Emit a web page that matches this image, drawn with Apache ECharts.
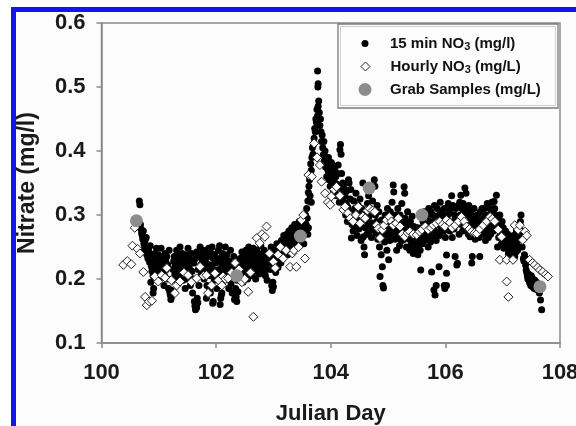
<!DOCTYPE html>
<html>
<head>
<meta charset="utf-8">
<script src="https://cdn.jsdelivr.net/npm/echarts@6/dist/echarts.min.js"></script>
<style>html,body{margin:0;padding:0;background:#fff}#c{width:576px;height:426px}</style>
</head>
<body>
<div id="c"></div>
<script>
// 15-minute nitrate readings [Julian day, mg/l]
const min15Data = [
[100.66,0.322],[100.67,0.316],[100.68,0.285],[100.69,0.278],[100.70,0.272],
[100.71,0.268],[100.72,0.262],[100.73,0.275],[100.74,0.255],[100.75,0.248],[100.76,0.26],[100.77,0.243],[100.78,0.265],[100.79,0.238],[100.80,0.25],
[100.81,0.232],[100.82,0.245],[100.83,0.24],[100.84,0.226],[100.85,0.252],[100.86,0.235],[100.87,0.22],[100.88,0.212],[100.89,0.23],[100.90,0.205],
[100.90,0.178],[100.91,0.185],[100.86,0.195],
[100.92,0.222],[100.93,0.24],[100.94,0.232],[100.95,0.215],[100.96,0.248],[100.97,0.228],[100.98,0.21],[100.99,0.238],[101.0,0.225],
[101.01,0.2],[101.02,0.218],[101.03,0.235],[101.04,0.248],[101.05,0.226],[101.06,0.21],[101.07,0.232],[101.08,0.222],[101.09,0.19],[101.1,0.205],
[101.11,0.24],[101.12,0.228],[101.13,0.215],[101.14,0.235],[101.15,0.2],[101.16,0.222],[101.17,0.185],[101.18,0.245],[101.19,0.18],[101.2,0.175],
[101.21,0.168],[101.22,0.172],[101.23,0.182],
[101.24,0.2],[101.25,0.215],[101.26,0.228],[101.27,0.235],[101.28,0.208],[101.29,0.222],[101.3,0.198],
[101.31,0.245],[101.32,0.232],[101.33,0.215],[101.34,0.225],[101.35,0.238],[101.36,0.205],[101.37,0.25],[101.38,0.22],[101.39,0.212],[101.4,0.228],
[101.41,0.24],[101.42,0.198],[101.43,0.215],[101.44,0.232],[101.45,0.222],[101.46,0.185],[101.47,0.2],[101.48,0.238],[101.49,0.21],[101.5,0.226],
[101.51,0.248],[101.52,0.235],[101.53,0.218],[101.54,0.205],[101.55,0.19],[101.56,0.228],[101.57,0.24],[101.58,0.212],[101.59,0.178],[101.6,0.2],
[101.62,0.165],[101.63,0.158],[101.64,0.152],[101.65,0.16],[101.66,0.155],[101.67,0.17],[101.68,0.163],
[101.61,0.225],[101.64,0.232],[101.66,0.242],[101.69,0.215],[101.7,0.19],
[101.71,0.235],[101.72,0.25],[101.73,0.222],[101.74,0.208],[101.75,0.24],[101.76,0.228],[101.77,0.215],[101.78,0.245],[101.79,0.2],[101.8,0.232],
[101.81,0.218],[101.82,0.24],[101.83,0.225],[101.84,0.19],[101.85,0.208],[101.86,0.235],[101.87,0.248],[101.88,0.212],[101.89,0.183],[101.9,0.205],
[101.83,0.17],[101.9,0.178],[101.94,0.162],[101.95,0.165],
[101.91,0.222],[101.92,0.24],[101.93,0.25],[101.95,0.232],[101.96,0.215],[101.97,0.198],[101.98,0.238],[101.99,0.225],[102.0,0.21],
[102.01,0.185],[102.02,0.2],[102.03,0.228],[102.04,0.245],[102.05,0.215],[102.06,0.252],[102.07,0.232],[102.08,0.208],[102.09,0.175],[102.1,0.222],
[102.07,0.16],[102.08,0.17],[102.1,0.178],
[102.11,0.24],[102.12,0.228],[102.13,0.212],[102.14,0.198],[102.15,0.235],[102.16,0.25],[102.17,0.22],[102.18,0.205],[102.19,0.238],[102.2,0.215],
[102.21,0.2],[102.22,0.185],[102.23,0.228],[102.24,0.212],[102.25,0.245],[102.26,0.192],[102.27,0.222],[102.28,0.178],[102.29,0.205],[102.3,0.218],
[102.31,0.235],[102.32,0.168],[102.33,0.175],[102.34,0.185],[102.35,0.172],[102.36,0.165],[102.37,0.198],[102.38,0.18],[102.39,0.21],[102.4,0.225],
[102.41,0.215],[102.42,0.232],[102.43,0.2],[102.44,0.222],[102.45,0.242],[102.46,0.21],[102.47,0.195],[102.48,0.235],[102.49,0.218],[102.5,0.205],
[102.51,0.228],[102.52,0.245],[102.53,0.212],[102.54,0.238],[102.55,0.2],[102.56,0.222],[102.57,0.25],[102.58,0.232],[102.59,0.215],[102.6,0.24],
[102.61,0.218],[102.62,0.235],[102.63,0.205],[102.64,0.228],[102.65,0.248],[102.66,0.212],[102.67,0.238],[102.68,0.222],[102.69,0.2],[102.7,0.232],
[102.71,0.245],[102.72,0.228],[102.73,0.215],[102.74,0.24],[102.75,0.208],[102.76,0.232],[102.77,0.222],[102.78,0.252],[102.79,0.238],[102.8,0.218],
[102.81,0.235],[102.82,0.212],[102.83,0.228],[102.84,0.245],[102.85,0.22],[102.86,0.205],[102.87,0.24],[102.88,0.215],[102.89,0.198],[102.9,0.232],
[102.97,0.19],[102.98,0.182],[102.99,0.195],[103.0,0.188],
[102.91,0.225],[102.93,0.24],[102.94,0.228],[102.95,0.215],[102.96,0.25],[102.97,0.235],
[103.01,0.222],[103.02,0.245],[103.03,0.232],[103.04,0.21],[103.05,0.24],[103.06,0.255],[103.07,0.228],[103.08,0.218],[103.09,0.242],[103.1,0.235],
[103.11,0.25],[103.12,0.238],[103.13,0.225],[103.14,0.26],[103.15,0.245],[103.16,0.232],[103.17,0.252],[103.18,0.268],[103.19,0.24],[103.2,0.255],
[103.21,0.262],[103.22,0.248],[103.23,0.27],[103.24,0.255],[103.25,0.238],[103.26,0.265],[103.27,0.275],[103.28,0.25],[103.29,0.26],[103.3,0.272],
[103.31,0.258],[103.32,0.28],[103.33,0.268],[103.34,0.25],[103.35,0.275],[103.36,0.262],[103.37,0.285],[103.38,0.27],[103.39,0.255],[103.4,0.278],
[103.41,0.268],[103.42,0.285],[103.43,0.26],[103.44,0.275],[103.45,0.29],[103.46,0.27],[103.47,0.28],[103.48,0.262],[103.49,0.288],[103.5,0.275],
[103.51,0.28],[103.52,0.268],[103.53,0.255],[103.54,0.29],[103.55,0.272],[103.56,0.3],[103.57,0.285],[103.58,0.31],[103.59,0.295],[103.6,0.322],
[103.61,0.335],[103.6,0.27],[103.61,0.28],[103.62,0.345],[103.63,0.355],[103.64,0.33],[103.66,0.32],
[103.64,0.365],[103.65,0.38],[103.66,0.37],[103.67,0.39],[103.68,0.405],[103.69,0.395],[103.7,0.41],
[103.71,0.42],[103.72,0.435],[103.73,0.43],[103.74,0.45],[103.75,0.445],[103.76,0.465],[103.77,0.455],[103.78,0.47],[103.775,0.5],[103.78,0.505],[103.77,0.525],
[103.79,0.478],[103.8,0.46],[103.81,0.44],[103.82,0.45],[103.83,0.43],[103.84,0.415],[103.85,0.425],
[103.86,0.405],[103.87,0.394],[103.88,0.415],[103.89,0.385],[103.9,0.4],[103.91,0.375],[103.92,0.39],[103.93,0.36],[103.94,0.38],[103.95,0.37],
[103.96,0.39],[103.97,0.355],[103.98,0.372],[103.99,0.345],[104.0,0.365],[104.01,0.382],[104.02,0.35],[104.03,0.378],[104.04,0.34],[104.05,0.362],
[104.06,0.355],[104.07,0.372],[104.08,0.338],[104.09,0.36],[104.1,0.33],[104.11,0.348],[104.12,0.365],[104.13,0.378],[104.14,0.344],[104.15,0.32],
[104.16,0.402],[104.17,0.41],[104.18,0.395],[104.19,0.365],[104.2,0.335],[104.21,0.35],[104.22,0.322],[104.23,0.342],[104.24,0.31],[104.25,0.33],
[104.26,0.3],[104.27,0.318],[104.28,0.338],[104.29,0.29],[104.3,0.312],[104.31,0.355],[104.32,0.35],[104.33,0.298],[104.34,0.325],[104.35,0.34],
[104.36,0.264],[104.37,0.285],[104.38,0.305],[104.39,0.275],[104.4,0.322],[104.41,0.295],[104.42,0.31],[104.43,0.282],[104.44,0.334],[104.45,0.3],
[104.46,0.268],[104.47,0.29],[104.48,0.315],[104.49,0.278],[104.5,0.302],[104.51,0.325],[104.52,0.285],[104.53,0.26],[104.54,0.31],[104.55,0.295],
[104.56,0.35],[104.57,0.266],[104.58,0.25],[104.59,0.238],[104.6,0.28],[104.61,0.305],[104.62,0.292],[104.63,0.27],[104.64,0.318],[104.65,0.285],
[104.66,0.33],[104.67,0.298],[104.68,0.275],[104.69,0.31],[104.7,0.288],[104.71,0.265],[104.72,0.302],[104.73,0.322],[104.74,0.28],[104.75,0.345],
[104.76,0.355],[104.77,0.345],[104.78,0.3],[104.79,0.272],[104.8,0.29],[104.81,0.315],[104.82,0.262],[104.83,0.282],[104.84,0.305],[104.85,0.25],
[104.86,0.204],[104.87,0.27],[104.88,0.238],[104.89,0.292],[104.9,0.219],[104.91,0.19],[104.92,0.186],[104.93,0.28],[104.94,0.258],[104.95,0.3],
[104.96,0.268],[104.97,0.285],[104.98,0.245],[104.99,0.31],[105.0,0.275],[105.01,0.23],[105.02,0.29],[105.03,0.26],[105.04,0.305],[105.05,0.28],
[105.06,0.27],[105.07,0.32],[105.08,0.295],[105.09,0.347],[105.1,0.336],[105.11,0.285],[105.12,0.262],[105.13,0.3],[105.14,0.275],[105.15,0.245],
[105.16,0.29],[105.17,0.31],[105.18,0.268],[105.19,0.285],[105.2,0.252],[105.21,0.3],[105.22,0.275],[105.23,0.26],[105.24,0.318],[105.25,0.29],
[105.26,0.261],[105.27,0.28],[105.28,0.344],[105.29,0.334],[105.3,0.295],[105.31,0.27],[105.32,0.25],[105.33,0.285],[105.34,0.305],[105.35,0.265],
[105.36,0.28],[105.37,0.262],[105.38,0.245],[105.39,0.29],[105.4,0.272],[105.41,0.255],[105.42,0.298],[105.43,0.268],[105.44,0.24],[105.45,0.282],
[105.46,0.26],[105.47,0.25],[105.48,0.275],[105.49,0.245],[105.5,0.265],[105.51,0.255],[105.52,0.28],[105.53,0.248],[105.54,0.27],[105.55,0.258],
[105.45,0.25],[105.48,0.242],[105.5,0.248],[105.52,0.238],[105.56,0.245],
[105.57,0.214],[105.58,0.265],[105.59,0.28],[105.6,0.255],[105.61,0.29],[105.62,0.27],[105.63,0.305],[105.64,0.26],[105.65,0.285],
[105.66,0.275],[105.67,0.298],[105.68,0.262],[105.69,0.285],[105.7,0.25],[105.71,0.31],[105.72,0.27],[105.73,0.29],[105.74,0.258],[105.75,0.305],
[105.76,0.211],[105.8,0.183],[105.82,0.175],[105.84,0.19],[105.89,0.219],[105.98,0.19],[105.99,0.185],
[105.77,0.28],[105.78,0.3],[105.79,0.265],[105.8,0.29],[105.81,0.315],[105.82,0.275],[105.83,0.298],[105.84,0.26],[105.85,0.285],
[105.86,0.31],[105.87,0.27],[105.88,0.29],[105.89,0.3],[105.9,0.268],[105.91,0.32],[105.92,0.295],[105.93,0.278],[105.94,0.305],[105.95,0.285],
[105.96,0.3],[105.97,0.275],[105.98,0.31],[105.99,0.29],[106.0,0.265],[106.01,0.295],[106.02,0.2375],[106.03,0.28],[106.04,0.3],[106.05,0.318],
[106.02,0.19],[106.02,0.209],
[106.06,0.29],[106.07,0.305],[106.08,0.275],[106.09,0.31],[106.1,0.285],[106.11,0.33],[106.12,0.265],[106.13,0.315],[106.14,0.29],[106.15,0.278],
[106.16,0.3],[106.17,0.235],[106.18,0.31],[106.19,0.285],[106.2,0.222],[106.21,0.2245],[106.22,0.295],[106.23,0.315],[106.24,0.27],[106.25,0.32],
[106.26,0.3],[106.27,0.331],[106.28,0.285],[106.29,0.31],[106.3,0.275],[106.31,0.318],[106.32,0.29],[106.33,0.305],[106.34,0.342],[106.35,0.28],
[106.36,0.334],[106.37,0.31],[106.38,0.288],[106.39,0.3],[106.4,0.27],[106.41,0.315],[106.42,0.285],[106.43,0.266],[106.44,0.295],[106.45,0.305],
[106.46,0.225],[106.47,0.235],[106.48,0.29],[106.49,0.275],[106.5,0.31],[106.51,0.28],[106.52,0.262],[106.53,0.298],[106.54,0.27],[106.55,0.285],
[106.56,0.3],[106.57,0.275],[106.58,0.29],[106.59,0.265],[106.6,0.235],[106.61,0.305],[106.62,0.271],[106.63,0.288],[106.64,0.31],[106.65,0.28],
[106.66,0.295],[106.67,0.27],[106.68,0.31],[106.69,0.285],[106.7,0.26],[106.71,0.3],[106.72,0.275],[106.73,0.318],[106.74,0.29],[106.75,0.265],
[106.76,0.3],[106.77,0.282],[106.78,0.31],[106.79,0.27],[106.8,0.295],[106.81,0.32],[106.82,0.285],[106.83,0.305],[106.84,0.275],[106.85,0.321],
[106.86,0.31],[106.87,0.29],[106.88,0.3],[106.89,0.331],[106.9,0.28],[106.91,0.25],[106.92,0.295],[106.93,0.265],[106.94,0.285],[106.95,0.3],
[106.96,0.27],[106.97,0.285],[106.98,0.255],[106.99,0.29],[107.0,0.265],[107.01,0.28],[107.02,0.248],[107.03,0.27],[107.04,0.258],[107.05,0.275],
[107.06,0.255],[107.07,0.261],[107.08,0.248],[107.09,0.27],[107.1,0.24],[107.11,0.258],[107.12,0.245],[107.13,0.265],[107.14,0.25],[107.15,0.238],
[107.16,0.26],[107.17,0.256],[107.18,0.245],[107.19,0.268],[107.2,0.25],[107.21,0.235],[107.22,0.258],[107.23,0.242],[107.24,0.275],[107.25,0.255],
[107.26,0.245],[107.27,0.265],[107.28,0.25],[107.29,0.28],[107.3,0.262],[107.31,0.29],[107.32,0.3],[107.33,0.275],[107.34,0.25],[107.35,0.268],
[107.36,0.232],[107.37,0.228],[107.38,0.238],[107.39,0.233],[107.4,0.222],[107.41,0.214],[107.42,0.21],[107.43,0.205],[107.44,0.2],[107.45,0.208],
[107.46,0.198],[107.47,0.194],[107.48,0.202],[107.49,0.19],[107.5,0.205],[107.51,0.196],[107.52,0.188],[107.53,0.2],[107.54,0.192],[107.55,0.185],
[107.56,0.198],[107.57,0.19],[107.58,0.184],[107.59,0.195],[107.6,0.188],
[107.62,0.182],[107.64,0.178],[107.66,0.167],[107.68,0.152]
];

// Hourly nitrate readings [Julian day, mg/L]
const hourlyData = [
[100.38,0.222],[100.45,0.228],[100.52,0.223],[100.54,0.252],[100.58,0.28],[100.63,0.247],[100.67,0.24],[100.73,0.211],
[100.76,0.172],[100.79,0.159],[100.83,0.165],[100.88,0.166],[100.93,0.204],[100.99,0.196],[101.05,0.206],[101.11,0.202],
[101.14,0.217],[101.22,0.198],[101.28,0.178],[101.31,0.19],[101.37,0.196],[101.44,0.21],[101.51,0.206],[101.57,0.195],
[101.66,0.201],[101.72,0.219],[101.78,0.205],[101.83,0.206],[101.86,0.178],[101.92,0.19],[101.98,0.209],[102.04,0.198],
[102.10,0.19],[102.12,0.204],[102.16,0.2],[102.21,0.201],[102.27,0.21],[102.33,0.225],[102.4,0.215],[102.45,0.195],[102.5,0.2],
[102.56,0.18],[102.6,0.21],[102.65,0.141],[102.71,0.264],[102.76,0.256],[102.8,0.27],[102.85,0.266],[102.88,0.282],
[102.93,0.24],[103.0,0.227],[103.03,0.217],[103.08,0.238],[103.12,0.25],[103.17,0.232],[103.22,0.245],[103.29,0.219],
[103.33,0.24],[103.36,0.245],[103.4,0.219],[103.44,0.25],[103.49,0.292],[103.52,0.30],[103.55,0.232],[103.61,0.3625],
[103.67,0.36],[103.71,0.412],[103.76,0.39],[103.81,0.378],[103.84,0.352],[103.9,0.334],[103.95,0.32],[103.99,0.316],
[104.01,0.329],[104.06,0.34],[104.1,0.344],[104.16,0.33],[104.22,0.308],[104.25,0.313],[104.3,0.303],[104.34,0.295],
[104.39,0.29],[104.44,0.3],[104.48,0.313],[104.51,0.287],[104.56,0.298],[104.6,0.295],[104.64,0.307],[104.68,0.31],
[104.73,0.307],[104.77,0.305],[104.8,0.284],[104.83,0.279],[104.86,0.264],[104.9,0.277],[104.93,0.284],[104.97,0.292],
[105.02,0.297],[105.06,0.29],[105.09,0.284],[105.14,0.287],[105.18,0.295],[105.21,0.282],[105.25,0.27],[105.29,0.266],
[105.34,0.272],[105.38,0.274],[105.44,0.27],[105.5,0.269],[105.55,0.274],[105.59,0.277],[105.65,0.282],[105.7,0.277],
[105.75,0.28],[105.79,0.284],[105.84,0.287],[105.9,0.29],[105.95,0.285],[105.99,0.282],[106.02,0.292],[106.08,0.288],
[106.12,0.28],[106.17,0.284],[106.23,0.29],[106.28,0.297],[106.33,0.29],[106.37,0.282],[106.42,0.278],[106.46,0.274],
[106.51,0.272],[106.55,0.271],[106.6,0.278],[106.66,0.284],[106.72,0.29],[106.78,0.297],[106.82,0.294],[106.86,0.29],
[106.92,0.277],[106.98,0.266],[106.95,0.23],[107.07,0.23],[107.18,0.23],[107.07,0.196],[107.10,0.172],
[107.21,0.284],[107.27,0.277],[107.3,0.284],[107.35,0.261],[107.39,0.274],[107.42,0.268],[107.47,0.23],[107.52,0.225],
[107.56,0.222],[107.61,0.218],[107.65,0.214],[107.7,0.211],[107.75,0.207],[107.79,0.204]
];

// Grab samples [Julian day, mg/L]
const grabData = [
[100.61,0.291],[102.36,0.205],[103.47,0.267],[104.67,0.342],[105.59,0.300],[107.65,0.188]
];

const seriesNames = ['15 min NO3 (mg/l)', 'Hourly NO3 (mg/L)', 'Grab Samples (mg/L)'];
const legendLabels = ['{a|15 min NO}{s|3}{a| (mg/l)}', '{a|Hourly NO}{s|3}{a| (mg/L)}', '{a|Grab Samples (mg/L)}'];

const FONT = '"Liberation Sans", Arial, sans-serif';
const richText = {
  a: {fontFamily: FONT, fontWeight: 'bold', fontSize: 15, color: '#111', lineHeight: 18},
  s: {fontFamily: FONT, fontWeight: 'bold', fontSize: 11, color: '#111', lineHeight: 10, verticalAlign: 'bottom'}
};

function makeLegend(i, size, icon, itemStyle, centerY) {
  const left = 365 - size / 2;
  return {
    data: [seriesNames[i]],
    left: left, top: centerY - 9,
    orient: 'vertical',
    padding: 0,
    itemWidth: size, itemHeight: size,
    icon: icon,
    itemStyle: itemStyle,
    selectedMode: false,
    formatter: () => legendLabels[i],
    textStyle: {padding: [0, 0, 0, 390 - (left + size + 5)], rich: richText}
  };
}

const chart = echarts.init(document.getElementById('c'), null, {renderer: 'canvas'});
chart.setOption({
  backgroundColor: '#fcfcfc',
  animation: false,
  grid: {left: 101.5, right: 16, top: 23, bottom: 83, show: true, borderColor: '#8a8a8a', borderWidth: 1.5,
         backgroundColor: 'transparent', containLabel: false, outerBoundsMode: 'none'},
  xAxis: {
    type: 'value', min: 100, max: 108, interval: 2,
    name: 'Julian Day', nameLocation: 'middle', nameGap: 60,
    nameTextStyle: {fontFamily: FONT, fontWeight: 'bold', fontSize: 22, color: '#1a1a1a'},
    axisLine: {lineStyle: {color: '#8a8a8a', width: 1.5}},
    axisTick: {show: true, inside: false, length: 5, lineStyle: {color: '#8a8a8a', width: 1.5}},
    axisLabel: {margin: 19, fontFamily: FONT, fontWeight: 'bold', fontSize: 22, color: '#1a1a1a'},
    splitLine: {show: false}
  },
  yAxis: {
    type: 'value', min: 0.1, max: 0.6, interval: 0.1,
    name: 'Nitrate (mg/l)', nameLocation: 'middle', nameGap: 62, nameRotate: 90,
    nameTextStyle: {fontFamily: FONT, fontWeight: 'bold', fontSize: 23, color: '#1a1a1a'},
    axisLine: {show: true, lineStyle: {color: '#8a8a8a', width: 1.5}},
    axisTick: {show: true, inside: false, length: 5, lineStyle: {color: '#8a8a8a', width: 1.5}},
    axisLabel: {margin: 16, fontFamily: FONT, fontWeight: 'bold', fontSize: 22, color: '#1a1a1a', formatter: v => v.toFixed(1)},
    splitLine: {show: false}
  },
  legend: [
    makeLegend(0, 7, 'circle', {color: '#000', opacity: 1}, 45),
    makeLegend(1, 9, 'diamond', {color: '#fff', borderColor: '#222', borderWidth: 1, opacity: 1}, 68),
    makeLegend(2, 13, 'circle', {color: '#8c8c8c', opacity: 1}, 91)
  ],
  graphic: [
    {type: 'rect', shape: {x: 0, y: 0, width: 11, height: 426}, style: {fill: '#fff'}, z: -5, silent: true},
    {type: 'rect', shape: {x: 0, y: 0, width: 576, height: 7}, style: {fill: '#fff'}, z: -5, silent: true},
    {type: 'rect', shape: {x: 11, y: 7, width: 5, height: 419}, style: {fill: '#1414f0'}, z: 10, silent: true},
    {type: 'rect', shape: {x: 11, y: 7, width: 565, height: 5}, style: {fill: '#1414f0'}, z: 10, silent: true},
    {type: 'rect', shape: {x: 338, y: 24, width: 220, height: 84}, style: {fill: '#fcfcfc', stroke: '#7a7a7a', lineWidth: 1.3}, z: 3, silent: true},
    {type: 'rect', shape: {x: 340.5, y: 26.5, width: 215, height: 79}, style: {fill: 'none', stroke: '#cfcfcf', lineWidth: 1}, z: 3, silent: true}
  ],
  series: [
    {name: seriesNames[0], type: 'scatter', data: min15Data, symbol: 'circle', symbolSize: 7,
     itemStyle: {color: '#000', opacity: 1}, z: 2},
    {name: seriesNames[1], type: 'scatter', data: hourlyData, symbol: 'diamond', symbolSize: 9,
     itemStyle: {color: '#fff', borderColor: '#222', borderWidth: 1, opacity: 1}, z: 3},
    {name: seriesNames[2], type: 'scatter', data: grabData, symbol: 'circle', symbolSize: 13,
     itemStyle: {color: '#8c8c8c', opacity: 1}, z: 4}
  ]
});
</script>
</body>
</html>
